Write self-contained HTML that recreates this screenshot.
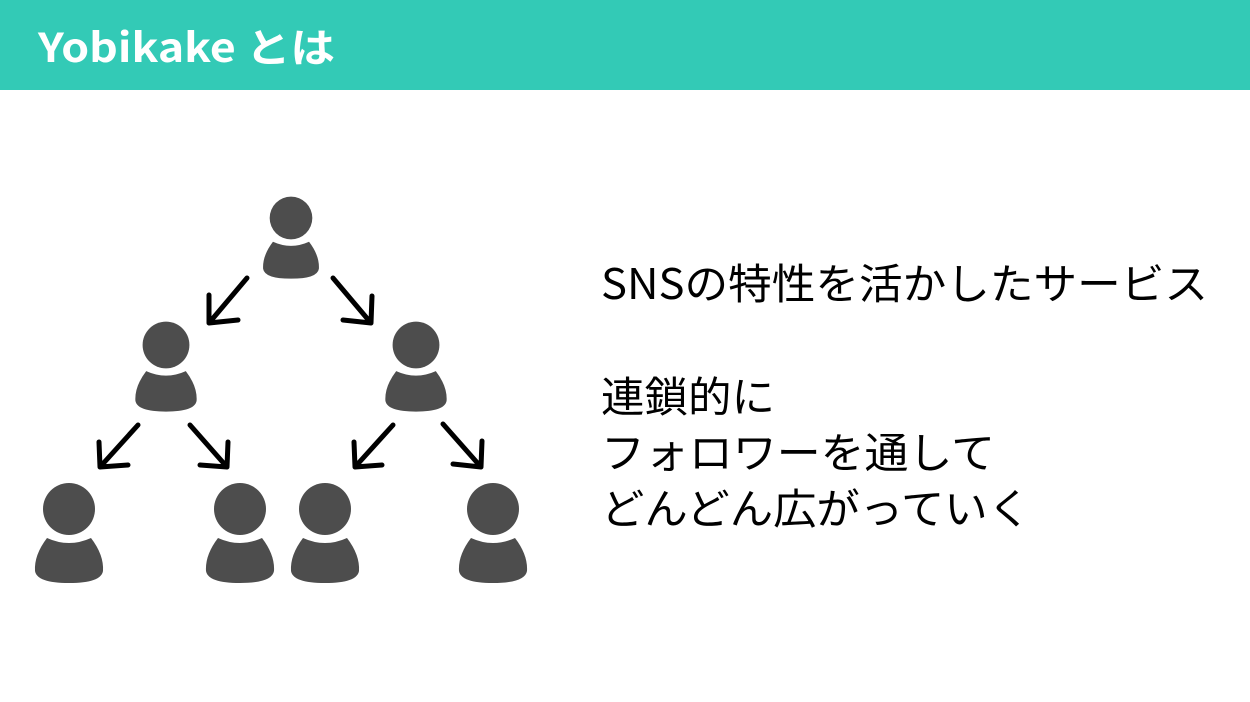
<!DOCTYPE html>
<html><head><meta charset="utf-8"><style>
html,body{margin:0;padding:0;background:#fff;width:1250px;height:702px;overflow:hidden}
</style></head><body>
<svg width="1250" height="702" viewBox="0 0 1250 702" xmlns="http://www.w3.org/2000/svg">
<defs>
<g id="p">
<circle cx="0" cy="0" r="26" fill="#4d4d4d"/>
<path d="M-22,29 Q0,39 22,29 Q35,46 34,62 Q32,74 0,74 Q-32,74 -34,62 Q-35,46 -22,29 Z" fill="#4d4d4d"/>
</g>
</defs>
<rect x="0" y="0" width="1250" height="90" fill="#33cab6"/>
<text x="38" y="62" font-family="'Noto Sans CJK JP','Liberation Sans',sans-serif" font-weight="bold" font-size="40" fill="#fff" textLength="297" lengthAdjust="spacingAndGlyphs">Yobikake とは</text>

<use href="#p" transform="translate(291,218) scale(0.82)"/>
<use href="#p" transform="translate(166,345) scale(0.9)"/>
<use href="#p" transform="translate(416,345) scale(0.9)"/>
<use href="#p" transform="translate(69,509)"/>
<use href="#p" transform="translate(240,509)"/>
<use href="#p" transform="translate(325,509)"/>
<use href="#p" transform="translate(493,509)"/>

<g stroke="#000" stroke-width="5" fill="none" stroke-linecap="round" stroke-linejoin="round">
<path d="M247,278 L209,323 M209,295 L209,323 L238,320"/>
<path d="M333,278 L371,323 M372,296 L371,323 L343,320"/>
<path d="M138,425 L100,467 M99,442 L100,467 L128,465"/>
<path d="M190,425 L227,467 M228,442 L227,467 L200,465"/>
<path d="M393,425 L355,467 M354,442 L355,467 L382,465"/>
<path d="M443,424 L481,467 M482,441 L481,467 L453,464"/>
</g>

<g font-family="'Noto Sans CJK JP','Liberation Sans',sans-serif" font-size="42" fill="#000">
<text x="601" y="299" textLength="607" lengthAdjust="spacingAndGlyphs">SNSの特性を活かしたサービス</text>
<text x="601" y="412" textLength="174" lengthAdjust="spacingAndGlyphs">連鎖的に</text>
<text x="601" y="468" textLength="394" lengthAdjust="spacingAndGlyphs">フォロワーを通して</text>
<text x="601" y="524" textLength="430" lengthAdjust="spacingAndGlyphs">どんどん広がっていく</text>
</g>
</svg>
</body></html>
